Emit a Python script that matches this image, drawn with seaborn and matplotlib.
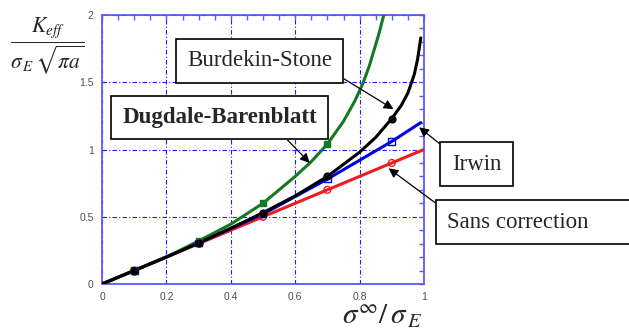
import numpy as np
import pandas as pd
import matplotlib
matplotlib.use("Agg")
import matplotlib.pyplot as plt
from matplotlib.ticker import MultipleLocator
import seaborn as sns

# --- data ------------------------------------------------------------------
# continuous curves
sans_x = [0.0, 0.1, 0.3, 0.5, 0.7, 0.9, 1.0]
sans_y = [0.0, 0.1, 0.3, 0.5, 0.7, 0.9, 1.0]

irwin_x = [0.0, 0.1, 0.3, 0.5, 0.7, 0.8, 0.9, 0.99]
irwin_y = [0.0, 0.1, 0.305, 0.52, 0.78, 0.92, 1.06, 1.20]

dugdale_x = [0.0, 0.1, 0.2, 0.3, 0.4, 0.5, 0.6, 0.65, 0.7, 0.75, 0.785, 0.81, 0.83, 0.845, 0.86, 0.875]
dugdale_y = [0.0, 0.1, 0.2, 0.32, 0.445, 0.60, 0.80, 0.91, 1.04, 1.21, 1.36, 1.49, 1.62, 1.74, 1.86, 2.0]

burdekin_x = [0.0, 0.1, 0.2, 0.3, 0.4, 0.5, 0.6, 0.7, 0.8, 0.85, 0.9, 0.93, 0.95, 0.97, 0.98, 0.99]
burdekin_y = [0.0, 0.1, 0.2, 0.305, 0.415, 0.53, 0.655, 0.80, 0.98, 1.09, 1.23, 1.33, 1.42, 1.56, 1.67, 1.83]

# marker points
mark_x = [0.1, 0.3, 0.5, 0.7, 0.9]
sans_m = [0.1, 0.3, 0.5, 0.7, 0.9]
irwin_m = [0.1, 0.305, 0.52, 0.78, 1.06]
dugdale_m = [0.1, 0.32, 0.60, 1.04]          # 0.9 is off the chart
burdekin_m = [0.1, 0.305, 0.53, 0.80, 1.23]

x_ticks = [0, 0.2, 0.4, 0.6, 0.8, 1]
x_labels = ["0", "0.2", "0.4", "0.6", "0.8", "1"]
y_ticks = [0, 0.5, 1, 1.5, 2]
y_labels = ["0", "0.5", "1", "1.5", "2"]

W, H = 629, 331

sns.set_style("white")
plt.rcParams["font.family"] = ["Liberation Sans", "DejaVu Sans"]
plt.rcParams["mathtext.fontset"] = "stix"

fig = plt.figure(figsize=(W / 100, H / 100), dpi=100)
ax = fig.add_axes([102 / W, 1 - 284 / H, 322 / W, 269 / H])

AXC = "#5a5aff"
GRIDC = "#1a1aff"

series = [
    (sans_x, sans_y, sans_m, "#ee1c1c", "o", "none"),
    (irwin_x, irwin_y, irwin_m, "#0000e6", "s", "none"),
    (dugdale_x, dugdale_y, dugdale_m, "#157a1f", "s", "full"),
    (burdekin_x, burdekin_y, burdekin_m, "black", "o", "full"),
]
for cx, cy, my, col, mk, fill in series:
    sns.lineplot(x=cx, y=cy, ax=ax, color=col, lw=2.2, sort=False,
                 estimator=None, zorder=3)
    mdf = pd.DataFrame({"x": mark_x[:len(my)], "y": my})
    sns.scatterplot(data=mdf, x="x", y="y", ax=ax, marker=mk, s=24,
                    facecolor=col if fill == "full" else "none",
                    edgecolor=col, linewidth=1.0, zorder=4)

ax.set_xlim(0, 1)
ax.set_ylim(0, 2)
ax.set_xlabel("")
ax.set_ylabel("")
ax.set_xticks(x_ticks, x_labels)
ax.set_yticks(y_ticks, y_labels)
ax.xaxis.set_minor_locator(MultipleLocator(0.05))
ax.yaxis.set_minor_locator(MultipleLocator(0.1))
ax.tick_params(which="both", direction="in", top=True, right=True,
               color=AXC, width=1.0)
ax.tick_params(which="major", length=3.5, labelsize=7.5,
               labelcolor="#505050", pad=6)
ax.tick_params(which="minor", length=3.5)
for s in ax.spines.values():
    s.set_color(AXC)
    s.set_linewidth(1.3)
ax.grid(True, which="major", color=GRIDC, ls=(0, (4, 2, 1, 2)), lw=0.8)

# axis labels
fig.text(47 / W, 1 - 46 / H,
         r"$\dfrac{K_{eff}}{\sigma_{\,E}\,\sqrt{\pi a}}$",
         fontsize=15.5, ha="center", va="center")
fig.text(382 / W, 1 - 316 / H, r"$\sigma^{\infty}/\,\sigma_{\,E}$",
         fontsize=21, ha="center", va="center")

# labelled arrows
box = dict(boxstyle="square,pad=0.5", fc="white", ec="black", lw=1.2)
serif = ["Liberation Serif", "DejaVu Serif"]


def label(text, tip, centre, relpos, bold=False, ha="center"):
    ax.annotate(text, xy=tip, xycoords="data",
                xytext=(centre[0], H - centre[1]), textcoords="figure pixels",
                ha=ha, va="center", fontsize=16.5, family=serif,
                fontweight="bold" if bold else "normal", bbox=box, zorder=6,
                arrowprops=dict(arrowstyle="-|>", color="black", lw=0.9,
                                mutation_scale=14, relpos=relpos,
                                shrinkA=0, shrinkB=0))


label("Burdekin-Stone", (0.905, 1.30), (259.5, 61), (1, 0))
label("Dugdale-Barenblatt", (0.645, 0.90), (219.5, 117.5), (0.79, 0), bold=True)
label("Irwin", (0.985, 1.165), (476.5, 164), (0, 1))
label("Sans correction      ", (0.89, 0.86), (447, 222), (0, 1), ha="left")

fig.savefig("out.png", dpi=100)
